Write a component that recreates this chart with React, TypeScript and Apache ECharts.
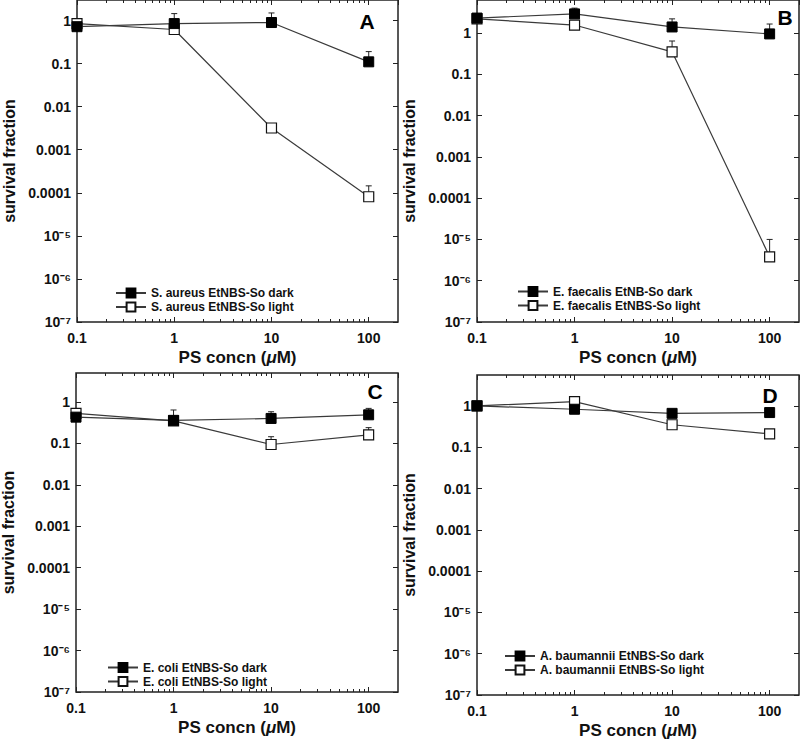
import React, { useEffect, useRef } from 'react';
import * as echarts from 'echarts';

// ---------- data ----------
const concentrations = [0.1, 1, 10, 100];
const xTickValues = [0.1, 1, 10, 100];
const xTickLabels = ['0.1', '1', '10', '100'];
const xMinorTicks = [0.2, 0.3, 0.4, 0.5, 0.6, 0.7, 0.8, 0.9, 2, 3, 4, 5, 6, 7, 8, 9, 20, 30, 40, 50, 60, 70, 80, 90];
const yTickValues = [1e-7, 1e-6, 1e-5, 1e-4, 1e-3, 0.01, 0.1, 1];
const yTickLabels = ['10⁻⁷', '10⁻⁶', '10⁻⁵', '0.0001', '0.001', '0.01', '0.1', '1'];

const aureusDark = [0.72, 0.85, 0.9, 0.11];
const aureusDarkUpper = [null, 1.45, 1.5, 0.19];
const aureusLight = [0.85, 0.62, 0.0032, 8.1e-5];
const aureusLightUpper = [null, null, null, 1.45e-4];

const faecalisDark = [2.3, 2.9, 1.4, 0.95];
const faecalisDarkUpper = [null, 4.0, 2.2, 1.65];
const faecalisLight = [2.2, 1.56, 0.35, 3.8e-6];
const faecalisLightUpper = [null, null, 0.64, 1.0e-5];

const coliDark = [0.43, 0.36, 0.4, 0.49];
const coliDarkUpper = [null, 0.64, 0.58, 0.7];
const coliLight = [0.53, 0.35, 0.094, 0.16];
const coliLightUpper = [0.65, null, 0.145, 0.24];

const baumanniiDark = [1.0, 0.83, 0.66, 0.69];
const baumanniiDarkUpper = [null, null, null, null];
const baumanniiLight = [1.0, 1.27, 0.35, 0.21];
const baumanniiLightUpper = [null, null, 0.42, 0.23];

const darkNames = ['S. aureus EtNBS-So dark', 'E. faecalis EtNB-So dark', 'E. coli EtNBS-So dark', 'A. baumannii EtNBS-So dark'];
const lightNames = ['S. aureus EtNBS-So light', 'E. faecalis EtNBS-So light', 'E. coli EtNBS-So light', 'A. baumannii EtNBS-So light'];
const panelLetters = ['A', 'B', 'C', 'D'];
const xAxisTitle = 'PS concn ({it|μ}M)';
const yAxisTitle = 'survival fraction';

// ---------- layout ----------
const FONT = 'Liberation Sans, Arial, Helvetica, sans-serif';
const layouts = [
  { grid: { left: 77, top: 0, width: 321, height: 322 }, yMax: 3, legend: { left: 115, top: 286 }, letter: [367, 21] },
  { grid: { left: 477, top: 0, width: 322, height: 322 }, yMax: 6.3, legend: { left: 517, top: 284.5 }, letter: [785, 17] },
  { grid: { left: 76, top: 373, width: 322, height: 319 }, yMax: 5, legend: { left: 107, top: 660.5 }, letter: [375, 391] },
  { grid: { left: 477, top: 375, width: 322, height: 320 }, yMax: 5.6, legend: { left: 504, top: 649 }, letter: [770, 395] },
];

const panelData = [
  { dark: aureusDark, darkUpper: aureusDarkUpper, light: aureusLight, lightUpper: aureusLightUpper },
  { dark: faecalisDark, darkUpper: faecalisDarkUpper, light: faecalisLight, lightUpper: faecalisLightUpper },
  { dark: coliDark, darkUpper: coliDarkUpper, light: coliLight, lightUpper: coliLightUpper },
  { dark: baumanniiDark, darkUpper: baumanniiDarkUpper, light: baumanniiLight, lightUpper: baumanniiLightUpper },
];

const near = (a: number, b: number) => Math.abs(Math.log10(a) - Math.log10(b)) < 1e-6;
const fmtX = (v: number) => {
  const i = xTickValues.findIndex((t) => near(t, v));
  return i >= 0 ? xTickLabels[i] : '';
};
const fmtY = (v: number) => {
  const i = yTickValues.findIndex((t) => near(t, v));
  return i >= 0 ? yTickLabels[i] : '';
};

function buildOption() {
  const grid: any[] = [];
  const xAxis: any[] = [];
  const yAxis: any[] = [];
  const series: any[] = [];
  const legend: any[] = [];
  const graphic: any[] = [];
  const tickColor = '#222';

  layouts.forEach((L, p) => {
    grid.push({
      ...L.grid,
      show: true,
      borderColor: '#222',
      borderWidth: 1.5,
      backgroundColor: 'rgba(0,0,0,0)',
      containLabel: false,
      outerBoundsMode: 'none',
    });
    const xBase = {
      type: 'log',
      logBase: 10,
      min: 0.1,
      max: 200,
      gridIndex: p,
      axisLine: { show: false },
      splitLine: { show: false },
      silent: true,
    };
    xAxis.push({
      ...xBase,
      position: 'bottom',
      axisTick: { show: true, inside: true, length: 5, lineStyle: { color: tickColor, width: 1 } },
      axisLabel: {
        show: true,
        margin: 9,
        formatter: fmtX,
        showMaxLabel: false,
        color: '#111',
        fontSize: 14,
        fontWeight: 'bold',
        fontFamily: FONT,
      },
      name: xAxisTitle,
      nameLocation: 'middle',
      nameGap: 27,
      nameTextStyle: {
        fontSize: 17,
        fontWeight: 'bold',
        fontFamily: FONT,
        color: '#111',
        rich: { it: { fontSize: 17, fontWeight: 'bold', fontStyle: 'italic', fontFamily: FONT, color: '#111' } },
      },
    });
    xAxis.push({
      ...xBase,
      position: 'bottom',
      axisTick: { show: true, inside: true, length: 3, customValues: xMinorTicks, lineStyle: { color: tickColor, width: 1 } },
      axisLabel: { show: false },
    });
    xAxis.push({
      ...xBase,
      position: 'top',
      axisTick: { show: true, inside: true, length: 5, lineStyle: { color: tickColor, width: 1 } },
      axisLabel: { show: false },
    });
    xAxis.push({
      ...xBase,
      position: 'top',
      axisTick: { show: true, inside: true, length: 3, customValues: xMinorTicks, lineStyle: { color: tickColor, width: 1 } },
      axisLabel: { show: false },
    });

    const yBase = {
      type: 'log',
      logBase: 10,
      min: 1e-7,
      max: L.yMax,
      gridIndex: p,
      axisLine: { show: false },
      splitLine: { show: false },
      silent: true,
    };
    yAxis.push({
      ...yBase,
      position: 'left',
      axisTick: { show: true, inside: true, length: 5, customValues: yTickValues, lineStyle: { color: tickColor, width: 1 } },
      axisLabel: {
        show: true,
        customValues: yTickValues,
        formatter: fmtY,
        margin: 6,
        color: '#111',
        fontSize: 14,
        fontWeight: 'bold',
        fontFamily: FONT,
      },
      name: yAxisTitle,
      nameLocation: 'middle',
      nameGap: 60,
      nameTextStyle: { fontSize: 16, fontWeight: 'bold', fontFamily: FONT, color: '#111' },
    });
    yAxis.push({
      ...yBase,
      position: 'right',
      axisTick: { show: true, inside: true, length: 5, customValues: yTickValues, lineStyle: { color: tickColor, width: 1 } },
      axisLabel: { show: false },
    });

    const D = panelData[p];
    const errData: any[] = [];
    concentrations.forEach((c, i) => {
      if (D.darkUpper[i] != null) errData.push([c, D.dark[i], D.darkUpper[i]]);
      if (D.lightUpper[i] != null) errData.push([c, D.light[i], D.lightUpper[i]]);
    });

    series.push({
      type: 'custom',
      name: 'err' + p,
      xAxisIndex: p * 4,
      yAxisIndex: p * 2,
      silent: true,
      z: 1,
      clip: false,
      encode: { x: 0, y: [1, 2] },
      data: errData,
      renderItem: (params: any, api: any) => {
        const x = api.value(0);
        const y = api.value(1);
        const hi = api.value(2);
        const p0 = api.coord([x, y]);
        const p1 = api.coord([x, hi]);
        const st = { stroke: '#222', lineWidth: 1 };
        return {
          type: 'group',
          children: [
            { type: 'line', shape: { x1: p0[0], y1: p0[1], x2: p1[0], y2: p1[1] }, style: st },
            { type: 'line', shape: { x1: p1[0] - 3, y1: p1[1], x2: p1[0] + 3, y2: p1[1] }, style: st },
          ],
        };
      },
    });

    series.push({
      type: 'line',
      name: lightNames[p],
      xAxisIndex: p * 4,
      yAxisIndex: p * 2,
      z: 2,
      data: concentrations.map((c, i) => [c, D.light[i]]),
      symbol: 'rect',
      symbolSize: 10,
      showAllSymbol: true,
      lineStyle: { color: '#3a3a3a', width: 1.2 },
      itemStyle: { color: '#ffffff', borderColor: '#111', borderWidth: 1.2 },
      emphasis: { disabled: true },
    });
    series.push({
      type: 'line',
      name: darkNames[p],
      xAxisIndex: p * 4,
      yAxisIndex: p * 2,
      z: 3,
      data: concentrations.map((c, i) => [c, D.dark[i]]),
      symbol: 'rect',
      symbolSize: 10,
      showAllSymbol: true,
      lineStyle: { color: '#3a3a3a', width: 1.2 },
      itemStyle: { color: '#000000', borderColor: '#000', borderWidth: 1 },
      emphasis: { disabled: true },
    });

    legend.push({
      data: [darkNames[p], lightNames[p]],
      orient: 'vertical',
      left: L.legend.left,
      top: L.legend.top,
      itemWidth: 30,
      itemHeight: 11,
      itemGap: 0,
      padding: 0,
      selectedMode: false,
      textStyle: { fontSize: 12, fontWeight: 'bold', fontFamily: FONT, color: '#111', lineHeight: 14 },
    });

    graphic.push({
      type: 'text',
      x: L.letter[0],
      y: L.letter[1],
      silent: true,
      style: {
        text: panelLetters[p],
        fontSize: 21,
        fontWeight: 'bold',
        fontFamily: FONT,
        fill: '#000',
        textAlign: 'center',
        textVerticalAlign: 'middle',
      },
    });
  });

  return {
    animation: false,
    backgroundColor: '#ffffff',
    grid,
    xAxis,
    yAxis,
    series,
    legend,
    graphic,
  };
}

export default function App() {
  const ref = useRef<HTMLDivElement>(null);
  useEffect(() => {
    if (!ref.current) return;
    const chart = echarts.init(ref.current, undefined, { renderer: 'svg' });
    chart.setOption(buildOption() as any);
    return () => chart.dispose();
  }, []);
  return <div ref={ref} style={{ position: 'absolute', left: 0, top: 0, width: 800, height: 742 }} />;
}
